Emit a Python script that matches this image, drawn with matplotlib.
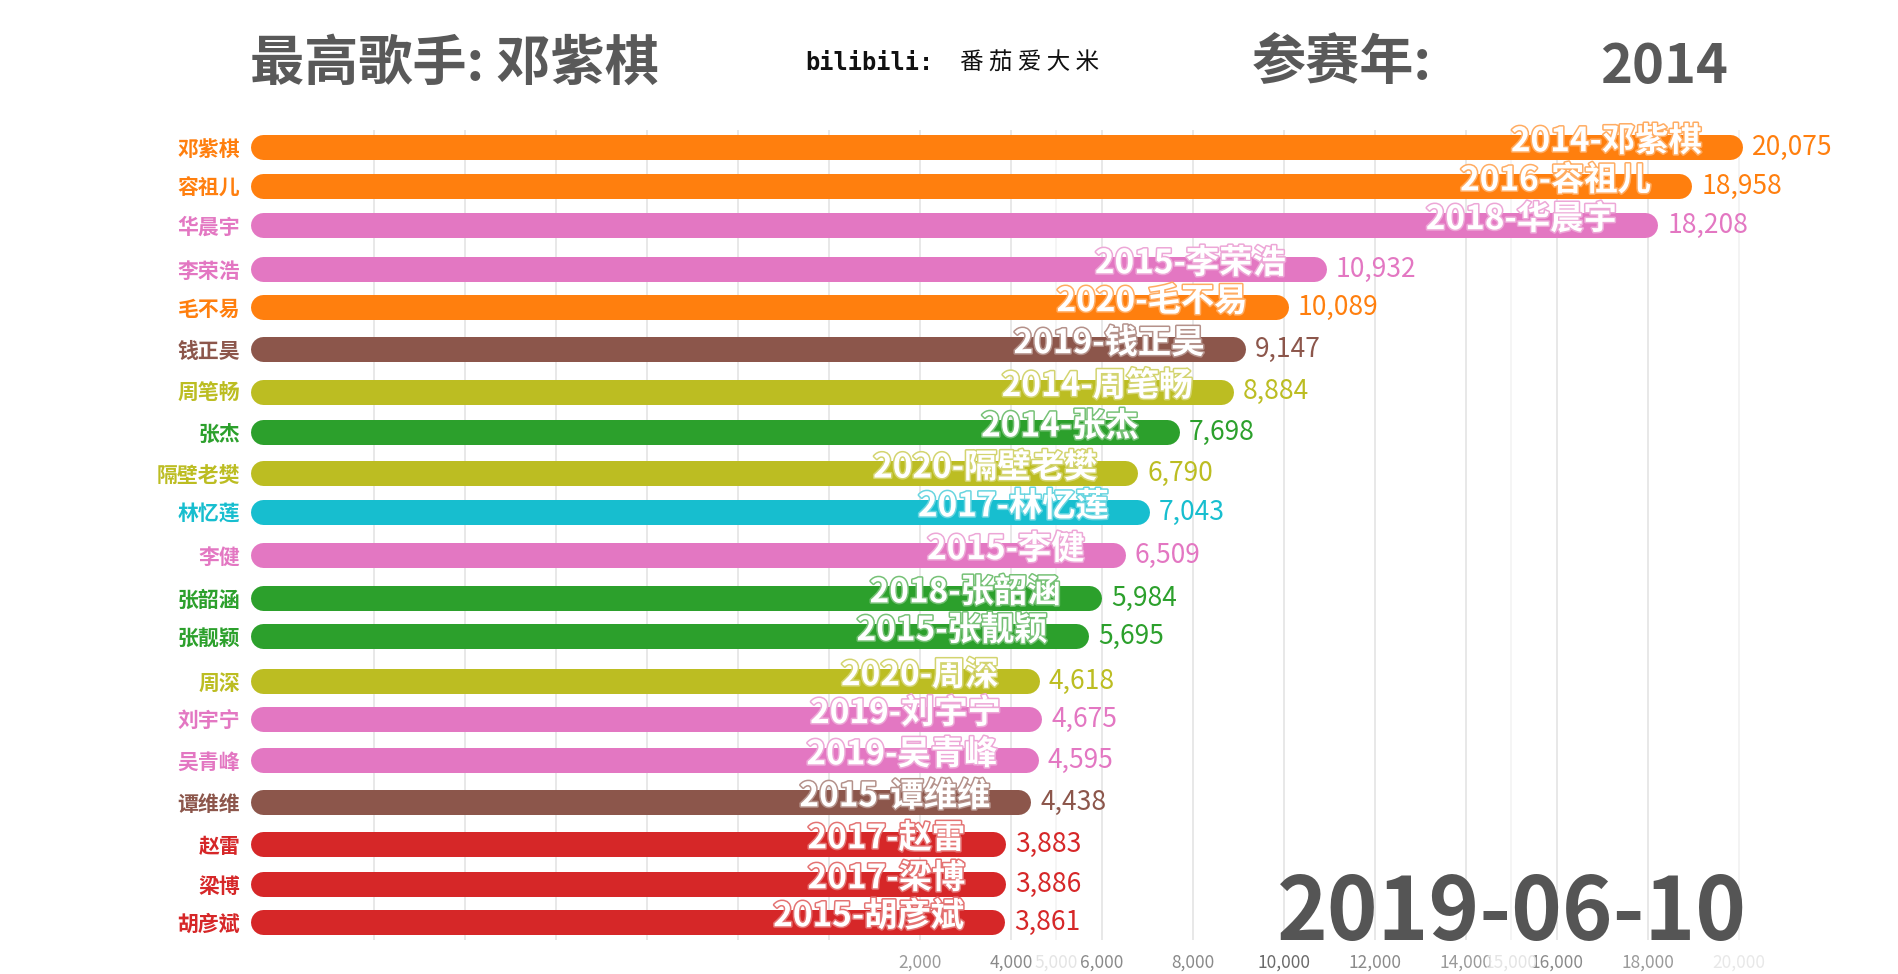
import matplotlib
matplotlib.use("Agg")
import matplotlib.pyplot as plt
import matplotlib.patheffects as pe
from matplotlib.colors import to_rgb

plt.rcParams["font.family"] = ["Noto Sans CJK SC", "DejaVu Sans"]

# 当前帧的数据
singers = ["邓紫棋", "容祖儿", "华晨宇", "李荣浩", "毛不易", "钱正昊", "周笔畅", "张杰",
           "隔壁老樊", "林忆莲", "李健", "张韶涵", "张靓颖", "周深", "刘宇宁", "吴青峰",
           "谭维维", "赵雷", "梁博", "胡彦斌"]
years = [2014, 2016, 2018, 2015, 2020, 2019, 2014, 2014, 2020, 2017,
         2015, 2018, 2015, 2020, 2019, 2019, 2015, 2017, 2017, 2015]
counts = [20075, 18958, 18208, 10932, 10089, 9147, 8884, 7698, 6790, 7043,
          6509, 5984, 5695, 4618, 4675, 4595, 4438, 3883, 3886, 3861]
# 动画中途的排名位置(非整数)
ranks = [0, 0.96, 1.91, 2.99, 3.92, 4.95, 6.0, 6.99, 8.0, 8.95,
         10.0, 11.06, 11.99, 13.09, 14.02, 15.03, 16.06, 17.09, 18.07, 19.0]
bar_colors = ["#ff7f0e", "#ff7f0e", "#e377c2", "#e377c2", "#ff7f0e", "#8c564b",
              "#bcbd22", "#2ca02c", "#bcbd22", "#17becf", "#e377c2", "#2ca02c",
              "#2ca02c", "#bcbd22", "#e377c2", "#e377c2", "#8c564b", "#d62728",
              "#d62728", "#d62728"]

tick_values = list(range(2000, 20001, 2000))
tick_colors = ["#9a9a9a", "#8a8a8a", "#8a8a8a", "#8a8a8a", "#6a6a6a",
               "#8a8a8a", "#9a9a9a", "#8a8a8a", "#9a9a9a", "#e8e8e8"]
fade_ticks = [5000, 15000]
grid_values = list(range(-10000, 20001, 2000))

top_singer = "邓紫棋"
top_year = "2014"
date_label = "2019-06-10"


def lighten(c, amt):
    r, g, b = to_rgb(c)
    return (r + (1 - r) * amt, g + (1 - g) * amt, b + (1 - b) * amt)


W, H = 1898, 974
fig = plt.figure(figsize=(W / 100, H / 100), dpi=100)
fig.patch.set_facecolor("white")

ax = fig.add_axes([250 / W, 1 - 940 / H, 1 - 250 / W, (940 - 130) / H])
x_left, x_right = -12725, 23495
ax.set_xlim(x_left, x_right)
ax.set_ylim(19.44, -0.42)
for s in ax.spines.values():
    s.set_visible(False)

# 网格线
for g in grid_values:
    ax.axvline(g, color="#e6e6e6" if g < 20000 else "#f2f2f2", lw=1.3, zorder=0)
for g in fade_ticks:
    ax.axvline(g, color="#f4f4f4", lw=1.3, zorder=0)

# 圆角条形:用圆头粗线画
bar_px = 25
px_per_unit = ax.get_position().width * W / (x_right - x_left)
r_data = bar_px / 2 / px_per_unit
for name, yr, v, r, c in zip(singers, years, counts, ranks, bar_colors):
    ax.plot([x_left + r_data, v - r_data], [r, r], color=c, lw=bar_px * 0.72,
            solid_capstyle="round", zorder=3)
    ax.annotate(f"{yr}-{name}", (v, r), xytext=(-29, -3), textcoords="offset points",
                ha="right", va="baseline", color="white", fontsize=24,
                fontweight="bold", zorder=5,
                path_effects=[pe.withStroke(linewidth=2.2, foreground=lighten(c, 0.35))])
    ax.annotate(f"{v:,}", (v, r), xytext=(7, 0), textcoords="offset points",
                ha="left", va="center", color=c, fontsize=19, fontweight="light",
                zorder=5)

ax.set_yticks(ranks, singers)
for lab, c in zip(ax.get_yticklabels(), bar_colors):
    lab.set_color(c)
    lab.set_fontweight("bold")
    lab.set_fontsize(15)
ax.tick_params(axis="y", length=0, pad=7)

ax.set_xticks(tick_values, [f"{t:,}" for t in tick_values])
ax.set_xticks(fade_ticks, [f"{t:,}" for t in fade_ticks], minor=True)
for lab, c in zip(ax.get_xticklabels(), tick_colors):
    lab.set_color(c)
for lab in ax.get_xticklabels(minor=True):
    lab.set_color("#e4e4e4")
ax.tick_params(axis="x", which="both", length=0, pad=10, labelsize=12.5)

# 标题区域
fig.text(250 / W, 1 - 64 / H, f"最高歌手: {top_singer}", ha="left", va="center",
         fontsize=39, fontweight="bold", color="#595959")
fig.text(805 / W, 1 - 63 / H, "bilibili:", ha="left", va="center",
         fontsize=17, family="DejaVu Sans Mono", fontweight="bold", color="#111111")
fig.text(960 / W, 1 - 63 / H, "番 茄 爱 大 米", ha="left", va="center",
         fontsize=17, color="#111111")
fig.text(1252 / W, 1 - 64 / H, "参赛年:", ha="left", va="center",
         fontsize=39, fontweight="bold", color="#595959")
fig.text(1728 / W, 1 - 83 / H, top_year, ha="right", va="baseline",
         fontsize=39, fontweight="bold", color="#595959")

fig.text(1747 / W, 1 - 940 / H, date_label, ha="right", va="baseline",
         fontsize=62, fontweight="bold", color="#555555", zorder=10)

fig.savefig("out.png", dpi=100, facecolor="white")
